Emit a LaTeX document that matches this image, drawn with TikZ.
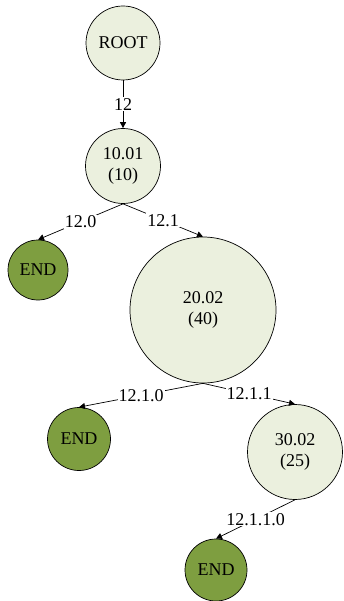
\documentclass[tikz,border=0pt]{standalone}
\usepackage{fontspec}
\setmainfont{Liberation Serif}
\usetikzlibrary{arrows.meta}
\definecolor{lightnode}{RGB}{235,240,222}
\definecolor{darknode}{RGB}{126,158,64}
\begin{document}
\begin{tikzpicture}[x=1pt,y=-1pt,
  inner/.style={circle,draw=black,line width=0.7pt,fill=lightnode,inner sep=0pt,align=center,font=\fontsize{18}{21}\selectfont},
  endn/.style={circle,draw=black,line width=0.7pt,fill=darknode,inner sep=0pt,minimum size=62pt,font=\fontsize{18}{21}\selectfont},
  edge/.style={line width=0.7pt,-{Triangle[length=6pt,width=6pt]}},
  elab/.style={fill=white,inner sep=1pt,font=\fontsize{18}{21}\selectfont}]
\useasboundingbox (0,0) rectangle (344,601);
\node[inner,minimum size=74pt] (root) at (123,43) {ROOT};
\node[inner,minimum size=75pt] (n1) at (123,166) {10.01\\(10)};
\node[endn,minimum size=60pt] (e1) at (38,270) {END};
\node[inner,minimum size=146pt] (n2) at (203,310) {20.02\\(40)};
\node[endn,minimum size=63pt] (e2) at (79,439) {END};
\node[inner,minimum size=95pt] (n3) at (295,452) {30.02\\(25)};
\node[endn,minimum size=62pt] (e3) at (216,570) {END};
\draw[edge] (root.south) -- node[elab] {12} (n1.north);
\draw[edge] (n1.south) -- node[elab] {12.0} (e1.north);
\draw[edge] (n1.south) -- node[elab] {12.1} (n2.north);
\draw[edge] (n2.south) -- node[elab] {12.1.0} (e2.north);
\draw[edge] (n2.south) -- node[elab] {12.1.1} (n3.north);
\draw[edge] (n3.south) -- node[elab] {12.1.1.0} (e3.north);
\end{tikzpicture}
\end{document}
